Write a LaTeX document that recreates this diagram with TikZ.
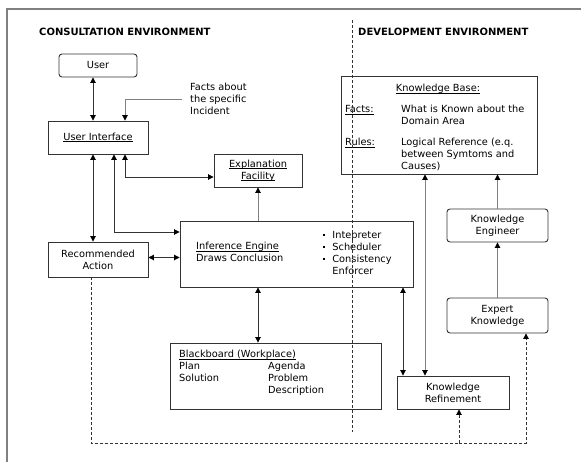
\documentclass[tikz,border=0pt]{standalone}
\usepackage{fontspec}
\setmainfont{DejaVu Sans}
\usetikzlibrary{arrows.meta}
\definecolor{linedark}{HTML}{333333}
\definecolor{linegray}{HTML}{808080}
\newcommand{\ulin}[1]{\underline{\setbox0\hbox{#1}\dp0=0pt\box0}}
\newcommand{\sqbullet}{\raisebox{2.6pt}{\rule{2.2pt}{2.2pt}}}

\begin{document}
\begin{tikzpicture}[x=1pt, y=-1pt, >={Triangle[length=5.5pt,width=5.5pt,color=black]},
        font=\fontsize{9.8}{12}\selectfont,
        box/.style={draw=linedark, line width=0.9pt, align=center, inner sep=0pt},
        rbox/.style={box, rounded corners=3pt},
        lbl/.style={inner sep=0pt, align=left},
        head/.style={inner sep=0pt, font=\fontsize{10}{12}\selectfont\bfseries},
        link/.style={draw=linedark, line width=0.9pt},
        glink/.style={draw=linegray, line width=0.9pt},
        dashline/.style={draw=linedark, line width=0.9pt, dash pattern=on 3pt off 2pt}]
        \useasboundingbox (0,0) rectangle (581,462);
        \draw[linegray, line width=1.6pt] (581,9) -- (7,9) -- (7,462);
        \node[head, anchor=west] (conshead) at (39,32) {CONSULTATION ENVIRONMENT};
        \node[head, anchor=west] (devhead) at (358,32) {DEVELOPMENT ENVIRONMENT};
        \node[rbox, minimum width=78, minimum height=23] (user) at (98,65.5) {User};
        \node[box, minimum width=100, minimum height=33] (ui) at (98,137.5) {\ulin{User Interface}};
        \node[lbl, anchor=north west] (facts) at (190,83) {Facts about\\the specific\\Incident};
        \node[box, minimum width=88, minimum height=33] (expl) at (258,170.5) {\ulin{Explanation}\\\ulin{Facility}};
        \node[box, minimum width=100, minimum height=35] (action) at (98,259.5) {Recommended\\Action};
        \node[box, minimum width=233, minimum height=66] (engine) at (296.5,254) {};
        \node[lbl, anchor=north west] (enginetext) at (196,242) {\ulin{Inference Engine}\\Draws Conclusion};
        \node[lbl, anchor=north west] (enginelist) at (323,230) {\begin{tabular}{@{}l@{\hspace{7pt}}l@{}}
                \sqbullet & Intepreter\\ \sqbullet & Scheduler\\ \sqbullet & Consistency\\ & Enforcer\end{tabular}};
        \node[box, minimum width=211, minimum height=66] (board) at (275.5,376) {};
        \node[lbl, anchor=north west] (boardtext) at (179,349) {\begin{tabular}{@{}p{89pt}@{}l@{}}
                \multicolumn{2}{@{}l@{}}{\ulin{Blackboard (Workplace)}}\\
                Plan & Agenda\\ Solution & Problem\\ & Description\end{tabular}};
        \node[box, minimum width=196, minimum height=98] (kbase) at (439,125) {};
        \node[lbl] (kbtitle) at (438,89) {\ulin{Knowledge Base:}};
        \node[lbl, anchor=west] (kbfacts) at (345,110) {\ulin{Facts:}};
        \node[lbl, anchor=north west] (kbfactstext) at (401,105) {What is Known about the\\Domain Area};
        \node[lbl, anchor=west] (kbrules) at (345,143) {\ulin{Rules:}};
        \node[lbl, anchor=north west] (kbrulestext) at (401,138) {Logical Reference (e.q.\\between Symtoms and\\Causes)};
        \node[rbox, minimum width=101, minimum height=33] (engineer) at (497.5,225.5) {Knowledge\\Engineer};
        \node[rbox, minimum width=101, minimum height=35] (expert) at (497.5,315.5) {Expert\\Knowledge};
        \node[box, minimum width=112, minimum height=33] (refine) at (453,392.5) {Knowledge\\Refinement};
        \coordinate (fork) at (459,443);
        \coordinate (divtop) at (352,20);
        \coordinate (divbottom) at (352,432);
        \draw[link, <->] ([xshift=-5]user.south) -- ([xshift=-5]ui.north);
        \draw[glink, ->] ([xshift=-8]facts.west) -| ([xshift=27]ui.north);
        \draw[link, <->] ([xshift=-5]ui.south) -- ([xshift=-5]action.north);
        \draw[link, <->] ([xshift=16]ui.south) |- ([yshift=22]engine.west);
        \draw[link, <->] ([xshift=27]ui.south) |- ([yshift=-6.5]expl.west);
        \draw[glink, ->] ([xshift=-38.5]engine.north) -- (expl.south);
        \draw[link, <->] ([yshift=2]action.east) -- ([yshift=2]action.east -| engine.west);
        \draw[link, <->] ([xshift=-38.5]engine.south) -- ([xshift=-38.5]engine.south |- board.north);
        \draw[link, <->] ([xshift=106.5]engine.south) -- ([xshift=106.5]engine.south |- refine.north);
        \draw[glink, <->] ([xshift=-14]kbase.south) -- ([xshift=-14]kbase.south |- refine.north);
        \draw[glink, ->] (engineer.north) -- (engineer.north |- kbase.south);
        \draw[glink, ->] (expert.north) -- (engineer.south);
        \draw[dashline] ([xshift=-7]action.south) |- (fork);
        \draw[dashline, ->] (fork) -- ([xshift=6]refine.south);
        \draw[dashline, ->] (fork) -| ([xshift=28.5]expert.south);
        \draw[dashline] (divtop) -- (divbottom);
\end{tikzpicture}
\end{document}
